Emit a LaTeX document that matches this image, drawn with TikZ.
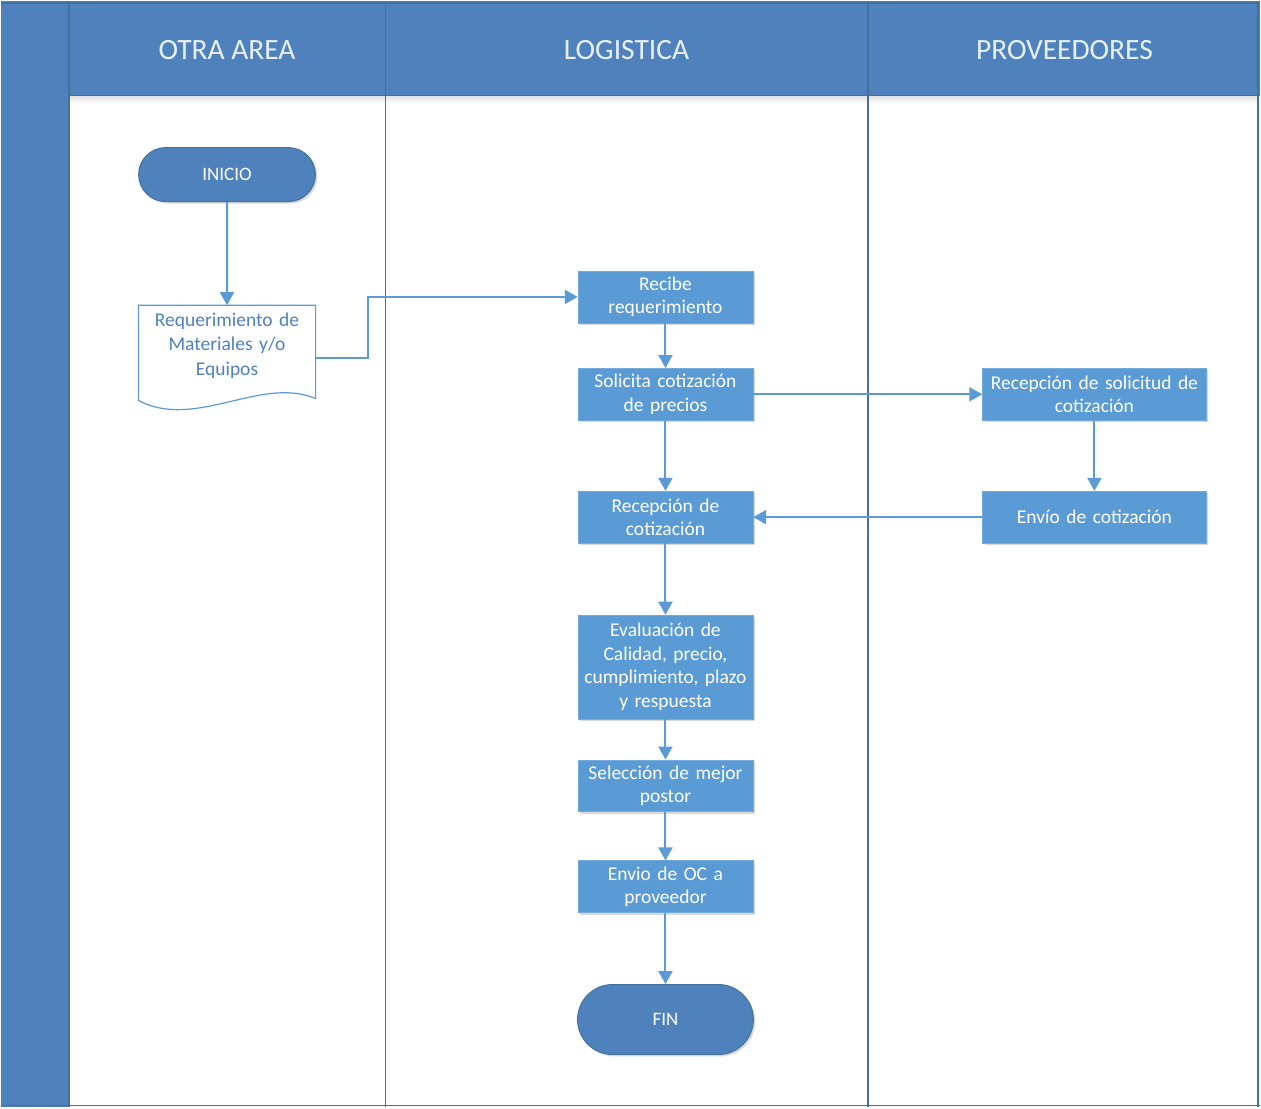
\documentclass[tikz,border=0pt]{standalone}
\usepackage{fontspec}
\setmainfont{Carlito}
\usetikzlibrary{arrows.meta,shapes.misc,shadows,calc}

\definecolor{lanehead}{HTML}{4F81BD}
\definecolor{laneline}{HTML}{41719C}
\definecolor{procfill}{HTML}{5B9BD5}
\definecolor{termfill}{HTML}{4F81BD}
\definecolor{termedge}{HTML}{41719C}
\definecolor{flowcol}{HTML}{5B9BD5}
\definecolor{doctext}{HTML}{4F81BD}
\definecolor{headtext}{HTML}{E8F0FA}

\begin{document}
\begin{tikzpicture}[x=1pt,y=-1pt,
  boxshadow/.style={drop shadow={shadow xshift=2pt,shadow yshift=-2pt,opacity=0.25,fill=black!60}},
  proc/.style={rectangle,fill=procfill,draw=procfill!85!white,line width=0.6pt,
    minimum width=175pt,minimum height=52pt,inner sep=0pt,text width=174pt,align=center,
    text=white,font=\fontsize{19.5}{23.5}\selectfont,boxshadow},
  term/.style={rounded rectangle,fill=termfill,draw=termedge,line width=1pt,
    minimum width=177pt,inner sep=0pt,text=white,font=\fontsize{19}{22}\selectfont,boxshadow},
  docbox/.style={rectangle,minimum width=177pt,minimum height=80pt,inner sep=0pt,
    text width=174pt,align=center,text=doctext,font=\fontsize{19.5}{24.5}\selectfont},
  docline/.style={draw=flowcol,line width=1.2pt,fill=white},
  lanetitle/.style={text=headtext,font=\fontsize{29.5}{34}\selectfont},
  flow/.style={draw=flowcol,line width=2pt,-{Triangle[length=13pt,width=14pt]}},
  divider/.style={draw=laneline,line width=1.6pt}]

% frame, left strip and lane headers
\fill[white] (0,0) rectangle (1261,1108);
\fill[lanehead] (0,0) rectangle (68,1108);
\fill[lanehead] (68,0) rectangle (1261,95);
\shade[top color=black!12,bottom color=white] (68,95) rectangle (1258,103);
\draw[divider] (68,0) -- (68,1108);
\draw[divider] (385,0) -- (385,1108);
\draw[divider] (868,0) -- (868,1108);
\draw[divider] (68,95) -- (1258,95);
\draw[divider] (0,2) -- (1261,2);
\draw[divider] (1259,0) -- (1259,1108);
\draw[divider] (0,1106) -- (1261,1106);

\node[lanetitle] (hotra) at (226.5,49) {OTRA AREA};
\node[lanetitle] (hlog) at (626.5,49) {LOGISTICA};
\node[lanetitle] (hprov) at (1065,49) {PROVEEDORES};

% OTRA AREA
\node[term,minimum height=54pt] (inicio) at (226.5,174) {INICIO};
\node[docbox] (doc) at (226.5,345) {};
\draw[docline] (doc.north west) -- (doc.north east) -- ($(doc.south east)+(0,13)$)
  .. controls ($(doc.south east)+(-55,-10)$) and ($(doc.south west)+(57,45)$) ..
  ($(doc.south west)+(0,15)$) -- cycle;
\node[docbox] at (doc.center) {Requerimiento de\\Materiales y/o\\Equipos};

% LOGISTICA
\node[proc] (recibe) at (665.5,296.5) {Recibe\\requerimiento};
\node[proc] (solicita) at (665.5,394) {Solicita cotización\\de precios};
\node[proc] (recepcot) at (665.5,517) {Recepción de\\cotización};
\node[proc,minimum height=104pt] (evalua) at (665.5,667) {Evaluación de\\Calidad, precio,\\cumplimiento, plazo\\y respuesta};
\node[proc] (selecc) at (665.5,786) {Selección de mejor\\postor};
\node[proc] (envoc) at (665.5,887) {Envio de OC a\\proveedor};
\node[term,minimum width=176pt,minimum height=70pt] (fin) at (665.5,1020) {FIN};

% PROVEEDORES
\node[proc,minimum width=224pt,text width=222pt] (recepsol) at (1095,394) {Recepción de solicitud de\\cotización};
\node[proc,minimum width=224pt,text width=222pt] (envcot) at (1095,517) {Envío de cotización};

% connectors
\draw[flow] (inicio) -- (doc.north);
\draw[flow] ($(doc.east)+(0,13)$) -- ++(52,0) |- (recibe.west);
\draw[flow] (recibe) -- (solicita);
\draw[flow] (solicita) -- (recepsol);
\draw[flow] (solicita) -- (recepcot);
\draw[flow] (recepsol) -- (envcot);
\draw[flow] (envcot) -- (recepcot);
\draw[flow] (recepcot) -- (evalua);
\draw[flow] (evalua) -- (selecc);
\draw[flow] (selecc) -- (envoc);
\draw[flow] (envoc) -- (fin);

\useasboundingbox (0,0) rectangle (1261,1108);
\end{tikzpicture}
\end{document}
